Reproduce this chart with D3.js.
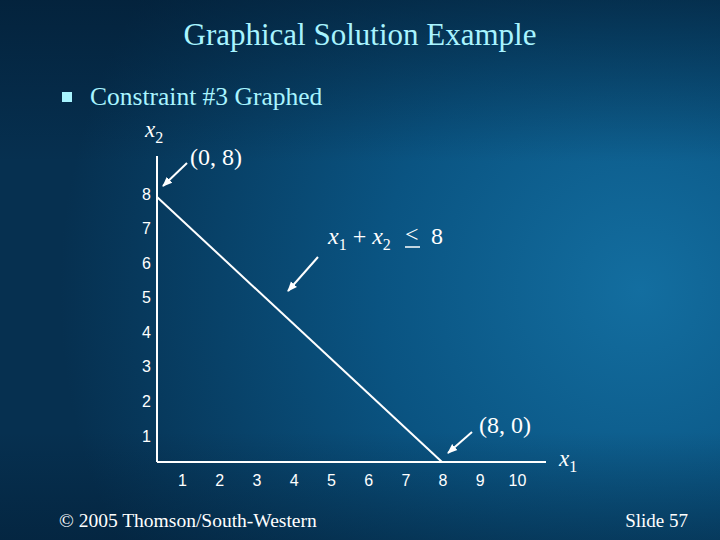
<!DOCTYPE html>
<html>
<head>
<meta charset="utf-8">
<script src="https://cdn.jsdelivr.net/npm/d3@7"></script>
<style>
  html, body { margin: 0; padding: 0; background: #06304f; }
  svg { display: block; }
</style>
</head>
<body>
<script>
// slide data
var xTicks = [1, 2, 3, 4, 5, 6, 7, 8, 9, 10];
var yTicks = [1, 2, 3, 4, 5, 6, 7, 8];
var constraintLine = [[0, 8], [8, 0]];
var endLabels = ["(0, 8)", "(8, 0)"];
var title = "Graphical Solution Example";
var bullet = "Constraint #3 Graphed";

var W = 720, H = 540;

var svg = d3.select("body").append("svg")
  .attr("width", W)
  .attr("height", H)
  .style("font-family", "'Liberation Serif', serif");

var defs = svg.append("defs");
var bg = defs.append("radialGradient")
  .attr("id", "bg")
  .attr("gradientUnits", "userSpaceOnUse")
  .attr("cx", 640).attr("cy", 290).attr("r", 580);
bg.append("stop").attr("offset", "0%").attr("stop-color", "#136ea0");
bg.append("stop").attr("offset", "45%").attr("stop-color", "#0a5482");
bg.append("stop").attr("offset", "100%").attr("stop-color", "#063050");

var shade = defs.append("linearGradient")
  .attr("id", "shade").attr("x1", 0).attr("y1", 0).attr("x2", 0).attr("y2", 1);
shade.append("stop").attr("offset", "0%").attr("stop-color", "#021a30").attr("stop-opacity", 0.6);
shade.append("stop").attr("offset", "30%").attr("stop-color", "#021a30").attr("stop-opacity", 0);
shade.append("stop").attr("offset", "80%").attr("stop-color", "#021a30").attr("stop-opacity", 0);
shade.append("stop").attr("offset", "100%").attr("stop-color", "#021a30").attr("stop-opacity", 0.45);

var mk = defs.append("marker")
  .attr("id", "arrow")
  .attr("viewBox", "0 0 10 10")
  .attr("refX", 9).attr("refY", 5)
  .attr("markerWidth", 5).attr("markerHeight", 5)
  .attr("orient", "auto");
mk.append("path").attr("d", "M0,1 L10,5 L0,9 Z").attr("fill", "#fff");

svg.append("rect").attr("width", W).attr("height", H).attr("fill", "url(#bg)");
svg.append("rect").attr("width", W).attr("height", H).attr("fill", "url(#shade)");

// title + bullet
svg.append("text")
  .attr("x", 360).attr("y", 45)
  .attr("text-anchor", "middle")
  .attr("fill", "#a8f4ff")
  .style("font-size", "31px")
  .text(title);

svg.append("rect")
  .attr("x", 62).attr("y", 92).attr("width", 10).attr("height", 10)
  .attr("fill", "#a8f4ff");
svg.append("text")
  .attr("x", 90).attr("y", 105)
  .attr("fill", "#a8f4ff")
  .style("font-size", "25.5px")
  .text(bullet);

// plot scales (line) and label scales (slide places tick text slightly apart)
var x = d3.scaleLinear().domain([0, 8]).range([157, 442]);
var y = d3.scaleLinear().domain([0, 8]).range([462, 197]);
var xLab = d3.scaleLinear().domain([1, 10]).range([182, 517]);
var yLab = d3.scaleLinear().domain([1, 8]).range([436, 194]);

var g = svg.append("g");

// axis lines
g.append("line")
  .attr("x1", x(0)).attr("x2", x(0))
  .attr("y1", 156).attr("y2", y(0))
  .attr("stroke", "#fff").attr("stroke-width", 2);
g.append("line")
  .attr("x1", x(0)).attr("x2", 546)
  .attr("y1", y(0)).attr("y2", y(0))
  .attr("stroke", "#fff").attr("stroke-width", 2);

// tick labels
var xAxis = d3.axisBottom(xLab).tickValues(xTicks).tickSize(0).tickPadding(0).tickFormat(d3.format("d"));
var gx = g.append("g").attr("transform", "translate(0,475)").call(xAxis);
var yAxis = d3.axisLeft(yLab).tickValues(yTicks).tickSize(0).tickPadding(0).tickFormat(d3.format("d"));
var gy = g.append("g").attr("transform", "translate(151,0)").call(yAxis);
[gx, gy].forEach(function (a) {
  a.select(".domain").remove();
  a.selectAll("text")
    .attr("fill", "#fff")
    .style("font-family", "'Liberation Sans', Arial, sans-serif")
    .style("font-size", "16px");
});
gx.selectAll("text").attr("dy", "0.71em");

// constraint line
var line = d3.line().x(function (d) { return x(d[0]); }).y(function (d) { return y(d[1]); });
g.append("path")
  .datum(constraintLine)
  .attr("d", line)
  .attr("fill", "none")
  .attr("stroke", "#fff")
  .attr("stroke-width", 2);

// axis names
function axisName(px, py, sub) {
  var t = svg.append("text")
    .attr("x", px).attr("y", py)
    .attr("fill", "#fff")
    .style("font-size", "23px");
  t.append("tspan").style("font-style", "italic").text("x");
  t.append("tspan").attr("dy", 6).style("font-size", "16px").text(sub);
  return t;
}
axisName(145, 137, "2");
axisName(559, 466, "1");

// end point labels + arrows
svg.append("text")
  .attr("x", 190).attr("y", 165)
  .attr("fill", "#fff")
  .style("font-size", "24px")
  .text(endLabels[0]);
svg.append("line")
  .attr("x1", 187).attr("y1", 163).attr("x2", 163).attr("y2", 186)
  .attr("stroke", "#fff").attr("stroke-width", 2)
  .attr("marker-end", "url(#arrow)");

svg.append("text")
  .attr("x", 479).attr("y", 433)
  .attr("fill", "#fff")
  .style("font-size", "24px")
  .text(endLabels[1]);
svg.append("line")
  .attr("x1", 472).attr("y1", 432).attr("x2", 448).attr("y2", 453)
  .attr("stroke", "#fff").attr("stroke-width", 2)
  .attr("marker-end", "url(#arrow)");

// constraint label
var c = svg.append("text")
  .attr("x", 328).attr("y", 244)
  .attr("fill", "#fff")
  .style("font-size", "24px");
c.append("tspan").style("font-style", "italic").text("x");
c.append("tspan").attr("dy", 6).style("font-size", "16px").text("1");
c.append("tspan").attr("dy", -6).text(" + ");
c.append("tspan").style("font-style", "italic").text("x");
c.append("tspan").attr("dy", 6).style("font-size", "16px").text("2");
svg.append("text")
  .attr("x", 405).attr("y", 242)
  .attr("fill", "#fff")
  .style("font-size", "24px")
  .text("<");
svg.append("text")
  .attr("x", 431).attr("y", 244)
  .attr("fill", "#fff")
  .style("font-size", "24px")
  .text("8");
// underline of the <= sign
svg.append("line")
  .attr("x1", 405).attr("x2", 420).attr("y1", 247).attr("y2", 247)
  .attr("stroke", "#fff").attr("stroke-width", 1.5);
svg.append("line")
  .attr("x1", 318).attr("y1", 257).attr("x2", 288).attr("y2", 291)
  .attr("stroke", "#fff").attr("stroke-width", 2)
  .attr("marker-end", "url(#arrow)");

// footer
svg.append("text")
  .attr("x", 59).attr("y", 527)
  .attr("fill", "#fff")
  .style("font-size", "19.5px")
  .text("\u00A9 2005  Thomson/South-Western");
svg.append("text")
  .attr("x", 688).attr("y", 527)
  .attr("text-anchor", "end")
  .attr("fill", "#fff")
  .style("font-size", "19px")
  .text("Slide 57");
</script>
</body>
</html>
